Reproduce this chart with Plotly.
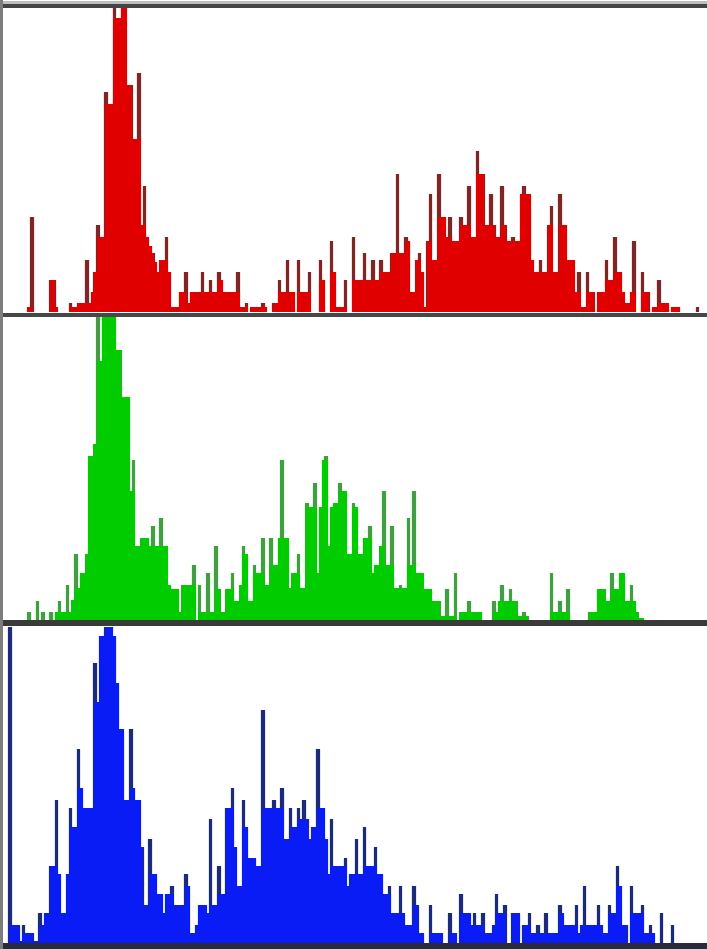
import plotly.graph_objects as go
from plotly.subplots import make_subplots

# ---- data: 256 histogram channels per colour (counts in display units) ----
channels = list(range(256))

red_counts = [
    0, 0, 0, 0, 0, 0, 0, 0, 0, 5, 95, 0, 0, 0, 0, 0,
    0, 32, 32, 5, 0, 0, 0, 0, 9, 5, 5, 9, 9, 9, 52, 9,
    20, 40, 87, 75, 75, 220, 208, 208, 330, 294, 294, 330, 330, 227, 227, 173,
    173, 239, 87, 126, 75, 66, 59, 50, 40, 52, 52, 75, 40, 5, 5, 5,
    20, 20, 40, 9, 20, 20, 20, 20, 40, 20, 20, 32, 20, 20, 40, 32,
    20, 20, 20, 20, 20, 40, 5, 5, 9, 0, 5, 5, 5, 5, 9, 5,
    0, 0, 9, 9, 32, 20, 20, 52, 20, 20, 0, 52, 20, 20, 20, 40,
    0, 0, 0, 52, 32, 0, 0, 71, 40, 5, 5, 5, 32, 0, 0, 75,
    32, 32, 32, 59, 32, 32, 52, 32, 32, 52, 40, 40, 40, 59, 59, 138,
    59, 59, 75, 71, 20, 20, 52, 59, 40, 5, 71, 118, 52, 52, 138, 95,
    95, 75, 95, 71, 71, 71, 95, 87, 87, 126, 75, 75, 161, 138, 138, 87,
    87, 118, 87, 75, 75, 126, 87, 71, 71, 75, 71, 71, 118, 126, 118, 118,
    52, 40, 40, 52, 40, 40, 87, 106, 40, 40, 118, 87, 87, 52, 52, 52,
    20, 40, 5, 5, 40, 20, 20, 0, 20, 20, 20, 52, 32, 32, 75, 40,
    40, 20, 9, 9, 20, 71, 0, 0, 40, 20, 20, 0, 5, 5, 32, 9,
    9, 9, 0, 5, 5, 5, 0, 0, 0, 0, 0, 0, 5, 0, 0, 0,
]

green_counts = [
    0, 0, 0, 0, 0, 0, 0, 0, 0, 8, 0, 0, 19, 0, 8, 0,
    0, 8, 0, 8, 19, 8, 8, 35, 8, 20, 66, 32, 47, 47, 66, 164,
    164, 176, 330, 259, 330, 330, 330, 330, 330, 270, 270, 223, 223, 223, 129, 160,
    74, 74, 82, 82, 82, 74, 94, 74, 74, 102, 74, 74, 35, 31, 31, 31,
    8, 35, 35, 35, 35, 55, 0, 35, 8, 8, 47, 8, 8, 74, 31, 8,
    8, 31, 31, 47, 19, 19, 35, 74, 66, 19, 19, 55, 47, 47, 82, 35,
    35, 82, 55, 55, 82, 160, 82, 82, 32, 47, 47, 66, 32, 32, 117, 113,
    113, 137, 47, 113, 160, 164, 74, 113, 117, 117, 137, 129, 129, 66, 66, 117,
    113, 66, 66, 82, 82, 94, 47, 55, 55, 74, 129, 55, 55, 94, 32, 32,
    35, 32, 32, 102, 55, 129, 47, 47, 47, 31, 31, 31, 19, 19, 19, 4,
    4, 31, 4, 4, 47, 0, 8, 8, 8, 19, 8, 8, 8, 8, 0, 0,
    0, 0, 19, 8, 19, 35, 19, 19, 31, 19, 19, 4, 4, 8, 4, 0,
    0, 0, 0, 0, 0, 0, 0, 47, 8, 8, 19, 8, 8, 31, 0, 0,
    0, 0, 0, 0, 0, 8, 8, 8, 31, 31, 31, 19, 19, 47, 31, 31,
    47, 47, 19, 19, 35, 19, 8, 2, 2, 0, 0, 0, 0, 0, 0, 0,
    0, 0, 0, 0, 0, 0, 0, 0, 0, 0, 0, 0, 0, 0, 0, 0,
]

blue_counts = [
    0, 0, 330, 18, 18, 18, 2, 18, 10, 10, 10, 2, 2, 30, 18, 30,
    30, 77, 77, 143, 69, 30, 30, 69, 135, 116, 116, 194, 155, 135, 135, 135,
    135, 280, 241, 307, 307, 330, 330, 330, 307, 260, 214, 214, 143, 143, 214, 155,
    143, 143, 96, 38, 38, 104, 69, 69, 49, 49, 30, 49, 49, 57, 38, 38,
    38, 38, 69, 57, 10, 10, 18, 38, 38, 38, 30, 124, 38, 38, 77, 49,
    49, 135, 135, 155, 96, 57, 57, 143, 116, 85, 85, 85, 77, 77, 233, 135,
    135, 135, 143, 135, 135, 155, 104, 104, 135, 116, 116, 135, 124, 143, 124, 104,
    116, 116, 194, 135, 135, 104, 69, 124, 77, 77, 77, 77, 85, 57, 69, 69,
    104, 69, 69, 116, 77, 77, 77, 96, 69, 69, 49, 49, 57, 30, 30, 30,
    57, 30, 18, 18, 18, 57, 38, 10, 10, 0, 0, 38, 10, 10, 10, 10,
    0, 0, 30, 10, 10, 0, 49, 30, 30, 30, 18, 30, 18, 18, 30, 10,
    10, 10, 18, 49, 30, 30, 38, 0, 0, 30, 30, 30, 0, 18, 18, 30,
    10, 10, 18, 10, 10, 30, 10, 10, 10, 10, 38, 30, 18, 18, 18, 18,
    38, 10, 18, 57, 18, 18, 18, 18, 38, 18, 10, 10, 38, 30, 30, 77,
    57, 18, 18, 0, 57, 30, 30, 30, 38, 10, 10, 18, 10, 0, 0, 30,
    0, 0, 0, 18, 0, 0, 0, 0, 0, 0, 0, 0, 0, 0, 0, 0,
]

# ---- styling ----
W, H = 707, 949
panels = [
    # (counts, bright fill, dark spike colour, pale halo colour, top px, bottom px)
    (red_counts, "#e00000", "#7c2626", "#ffe0e0", 8, 312),
    (green_counts, "#00cc00", "#449c44", "#dcffdc", 317, 620),
    (blue_counts, "#0a1cf6", "#1d2a7a", "#e0e8ff", 627, 943),
]


def lower_envelope(v):
    """Part of each channel that is shared with its taller neighbour (drawn bright)."""
    out = []
    n = len(v)
    for i in range(n):
        left = v[i - 1] if i > 0 else 0
        right = v[i + 1] if i < n - 1 else 0
        out.append(min(v[i], max(left, right)))
    return out


fig = make_subplots(rows=3, cols=1, shared_xaxes=False, vertical_spacing=0)

for row, (counts, bright, dark, halo, top, bottom) in enumerate(panels, start=1):
    # soft halo behind the bars
    fig.add_trace(
        go.Bar(x=channels, y=counts, width=2.0, marker=dict(color=halo, line=dict(width=0)),
               hoverinfo="skip", showlegend=False),
        row=row, col=1,
    )
    # dark spikes (full channel value)
    fig.add_trace(
        go.Bar(x=channels, y=counts, width=1.35, marker=dict(color=dark, line=dict(width=0)),
               hoverinfo="skip", showlegend=False),
        row=row, col=1,
    )
    # bright body
    fig.add_trace(
        go.Bar(x=channels, y=lower_envelope(counts), width=1.0,
               marker=dict(color=bright, line=dict(width=0)),
               hoverinfo="skip", showlegend=False),
        row=row, col=1,
    )
    axis_sfx = "" if row == 1 else str(row)
    fig.layout["yaxis" + axis_sfx].update(
        domain=[1 - bottom / H, 1 - top / H], range=[0, bottom - top],
        visible=False, fixedrange=True,
    )
    fig.layout["xaxis" + axis_sfx].update(
        domain=[3 / W, 1], range=[-0.5, 255.5], visible=False, fixedrange=True,
    )


def hband(y0, y1, color):
    return dict(type="rect", xref="paper", yref="paper", x0=0, x1=1,
                y0=1 - y1 / H, y1=1 - y0 / H, fillcolor=color, line=dict(width=0), layer="above")


shapes = [
    hband(1, 4, "#bdbdbd"),
    hband(4, 8, "#444444"),
    hband(313, 317, "#474747"),
    hband(620, 626, "#3a3a3a"),
    hband(943, 949, "#2a2a3a"),
    dict(type="rect", xref="paper", yref="paper", x0=0, x1=3 / W, y0=0, y1=1,
         fillcolor="#7d7d7d", line=dict(width=0), layer="above"),
]

fig.update_layout(
    width=W, height=H, autosize=False,
    margin=dict(l=0, r=0, t=0, b=0, pad=0),
    paper_bgcolor="white", plot_bgcolor="white",
    barmode="overlay", bargap=0,
    shapes=shapes,
)

fig.write_html("out.html", config={"staticPlot": True},
               post_script="document.body.style.margin='0';")
